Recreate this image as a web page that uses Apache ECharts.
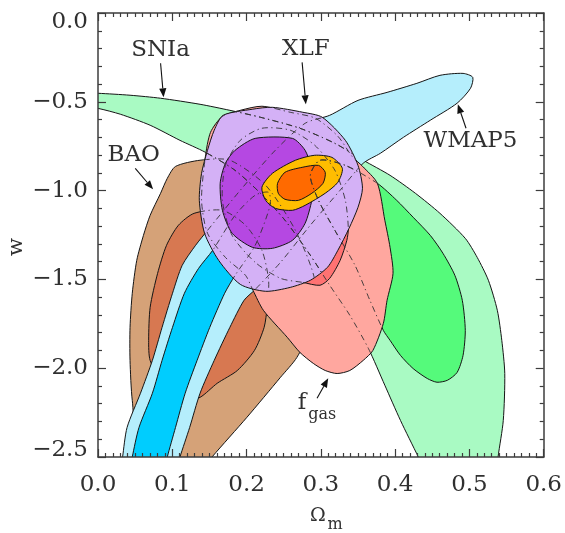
<!DOCTYPE html>
<html><head><meta charset="utf-8">
<script src="https://cdn.jsdelivr.net/npm/echarts@6/dist/echarts.min.js"></script>
<style>html,body{margin:0;padding:0;background:#fff}
#wrap{position:relative;width:565px;height:533px}
#s,#c{position:absolute;left:0;top:0;width:565px;height:533px}</style>
</head><body><div id="wrap"><div id="s"></div><div id="c"></div></div>
<script>
// ---- data (Omega_m, w) ----
var xTicks = [0.0, 0.1, 0.2, 0.3, 0.4, 0.5, 0.6];
var yTicks = [0.0, -0.5, -1.0, -1.5, -2.0, -2.5];

var snIaOuter = [[-0.01,-0.452],[0.0,-0.452],[0.043,-0.463],[0.084,-0.48],[0.137,-0.514],[0.177,-0.548],
 [0.218,-0.587],[0.271,-0.649],[0.318,-0.734],[0.356,-0.829],
 [0.392,-0.914],[0.426,-1.015],[0.459,-1.128],[0.493,-1.269],[0.509,-1.376],[0.524,-1.505],[0.536,-1.674],[0.542,-1.843],[0.546,-2.03],[0.544,-2.294],[0.537,-2.5],[0.536,-2.56],
 [0.437,-2.56],[0.43,-2.5],[0.406,-2.294],[0.385,-2.096],[0.363,-1.889],
 [0.338,-1.702],[0.311,-1.533],[0.285,-1.364],[0.251,-1.167],[0.218,-1.015],[0.184,-0.886],
 [0.144,-0.784],[0.11,-0.717],[0.07,-0.632],[0.03,-0.57],[0.0,-0.537],[-0.01,-0.534]];

var snIaInner = [[0.375,-0.959],[0.401,-1.055],[0.423,-1.15],[0.446,-1.252],[0.463,-1.353],[0.479,-1.477],[0.489,-1.618],[0.493,-1.787],[0.49,-1.928],[0.482,-2.024],[0.469,-2.068],[0.455,-2.079],[0.442,-2.058],[0.423,-2.002],[0.406,-1.928],[0.392,-1.843],[0.383,-1.787],
 [0.365,-1.618],[0.345,-1.421],[0.318,-1.224],[0.296,-1.055],[0.285,-0.914],[0.298,-0.829],[0.332,-0.858]];

var baoOuter = [[0.06,-2.56],[0.046,-2.181],[0.043,-1.956],[0.043,-1.77],[0.046,-1.578],[0.052,-1.393],[0.061,-1.252],[0.07,-1.139],[0.084,-1.015],[0.093,-0.931],[0.104,-0.864],[0.137,-0.829],
 [0.177,-0.829],[0.225,-0.97],[0.265,-1.224],[0.291,-1.505],[0.287,-1.759],[0.267,-1.939],
 [0.245,-2.051],[0.2,-2.276],[0.153,-2.5],[0.142,-2.56]];

var baoInner = [[0.129,-1.128],[0.108,-1.195],[0.092,-1.308],[0.08,-1.466],[0.07,-1.657],[0.068,-1.843],[0.07,-1.956],[0.091,-2.124],[0.117,-2.181],[0.137,-2.164],[0.16,-2.085],[0.187,-2.013],[0.21,-1.9],[0.223,-1.77],[0.227,-1.657],
 [0.229,-1.505],[0.22,-1.336],[0.198,-1.195],[0.167,-1.111]];

var wmapOuter = [[0.031,-2.56],[0.033,-2.5],[0.039,-2.334],[0.057,-2.141],[0.073,-1.956],[0.086,-1.77],[0.1,-1.578],[0.113,-1.421],[0.131,-1.308],[0.147,-1.224],
 [0.191,-0.998],[0.238,-0.773],[0.278,-0.621],
 [0.311,-0.576],[0.349,-0.492],[0.388,-0.447],[0.428,-0.396],[0.459,-0.351],[0.49,-0.34],[0.503,-0.362],[0.5,-0.424],[0.482,-0.508],[0.446,-0.604],[0.41,-0.7],[0.379,-0.79],[0.356,-0.846],
 [0.325,-0.998],[0.285,-1.195],[0.245,-1.404],
 [0.21,-1.561],[0.196,-1.618],[0.177,-1.77],[0.156,-1.956],[0.137,-2.141],[0.123,-2.334],[0.11,-2.5],[0.106,-2.56]];

var wmapInner = [[0.044,-2.56],[0.046,-2.5],[0.055,-2.334],[0.073,-2.141],[0.086,-1.956],[0.1,-1.77],[0.116,-1.578],[0.135,-1.438],
 [0.154,-1.336],[0.184,-1.139],[0.211,-1.026],[0.229,-1.01],[0.231,-1.083],[0.211,-1.308],[0.184,-1.477],
 [0.17,-1.578],[0.15,-1.77],[0.133,-1.956],[0.117,-2.141],[0.104,-2.334],[0.093,-2.5],[0.09,-2.56]];

var fgasOuter = [[0.144,-0.813],[0.151,-0.672],[0.167,-0.582],[0.191,-0.548],[0.22,-0.525],
 [0.258,-0.559],[0.292,-0.593],[0.322,-0.694],[0.341,-0.807],
 [0.355,-0.863],[0.375,-0.959],[0.385,-1.167],[0.392,-1.319],[0.396,-1.466],[0.388,-1.618],[0.383,-1.748],[0.369,-1.9],[0.356,-1.956],[0.338,-2.013],[0.321,-2.03],[0.305,-2.013],[0.289,-1.973],[0.271,-1.911],[0.254,-1.826],[0.222,-1.674],[0.208,-1.561],
 [0.198,-1.477],[0.171,-1.376],[0.147,-1.24],[0.139,-1.055]];

var fgasInner = [[0.275,-1.517],[0.298,-1.533],[0.311,-1.494],[0.325,-1.393],[0.334,-1.28],[0.336,-1.212],
 [0.332,-1.055],[0.318,-0.886],[0.291,-0.745],[0.258,-0.66],[0.22,-0.649],[0.191,-0.717],[0.171,-0.858],[0.167,-1.055],[0.18,-1.252],[0.211,-1.404],[0.245,-1.494]];

var xlfOuter = [[0.168,-0.576],[0.207,-0.542],[0.234,-0.531],[0.275,-0.559],[0.301,-0.587],[0.332,-0.717],[0.349,-0.858],[0.355,-0.987],[0.349,-1.094],[0.337,-1.212],[0.322,-1.336],[0.308,-1.432],[0.285,-1.505],[0.258,-1.545],[0.225,-1.567],[0.191,-1.528],[0.162,-1.393],[0.143,-1.24],[0.136,-1.055],[0.139,-0.903],[0.147,-0.773],[0.156,-0.66]];

var xlfInner = [[0.211,-0.706],[0.261,-0.706],[0.278,-0.773],[0.286,-0.869],[0.289,-0.97],[0.287,-1.055],[0.278,-1.184],[0.261,-1.28],[0.234,-1.325],[0.207,-1.319],[0.18,-1.24],[0.167,-1.111],[0.164,-0.959],[0.171,-0.846],[0.184,-0.773]];

var jointOuter = [[0.22,-0.981],[0.234,-0.903],[0.265,-0.829],[0.291,-0.801],[0.314,-0.813],[0.328,-0.875],[0.322,-0.953],[0.305,-1.015],[0.278,-1.083],[0.261,-1.111],[0.238,-1.1],[0.225,-1.055]];

var jointInner = [[0.241,-0.959],[0.251,-0.897],[0.274,-0.869],[0.296,-0.858],[0.305,-0.897],[0.302,-0.959],[0.287,-1.015],[0.269,-1.055],[0.251,-1.049],[0.242,-1.015]];

// ---- rendering ----
var FONT = 'DejaVu Serif';
var TXT = '#303030';
var AX = '#3c3c3c';
var SM = 0.25;
var GRID = {left: 98, top: 13, width: 447, height: 444, containLabel: false};
var XMIN = xTicks[0], XMAX = xTicks[xTicks.length - 1];
var YMIN = yTicks[yTicks.length - 1], YMAX = yTicks[0];

function fillSeries(name, pts, color) {
  return {
    type: 'custom', name: name, data: pts, clip: true, silent: true,
    encode: {x: 0, y: 1},
    renderItem: function (params, api) {
      if (params.dataIndex !== 0) return null;
      var P = pts.map(function (p) { return api.coord(p); });
      return {type: 'polygon', shape: {points: P, smooth: SM},
        style: {fill: color, stroke: '#151515', lineWidth: 1}};
    }
  };
}
function overlaySeries(clipPts, outlines) {
  return {
    type: 'custom', data: [[0.3, -1.0]], clip: true, silent: true,
    encode: {x: 0, y: 1},
    renderItem: function (params, api) {
      var cp = clipPts.map(function (p) { return api.coord(p); });
      var kids = outlines.map(function (o) {
        return {type: 'polygon', shape: {points: o.map(function (p) { return api.coord(p); }), smooth: SM},
          style: {fill: 'none', stroke: '#333', lineWidth: 0.9, lineDash: [6, 3.5, 1.2, 3.5]}};
      });
      return {type: 'group', children: kids, clipPath: {type: 'polygon', shape: {points: cp, smooth: SM}}};
    }
  };
}
function hiddenAxis(min, max, interval) {
  return {type: 'value', min: min, max: max, interval: interval,
    axisLine: {show: false}, axisTick: {show: false}, axisLabel: {show: false}, splitLine: {show: false}};
}

// layer 1: the contour fills (series) on the library's value axes
var seriesChart = echarts.init(document.getElementById('s'), null, {renderer: 'canvas'});
seriesChart.setOption({
  animation: false,
  backgroundColor: '#ffffff',
  grid: GRID,
  xAxis: hiddenAxis(XMIN, XMAX, 0.1),
  yAxis: hiddenAxis(YMIN, YMAX, 0.5),
  series: [
    fillSeries('SNIa 95%', snIaOuter, '#a9fac3'),
    fillSeries('SNIa 68%', snIaInner, '#55fa7b'),
    fillSeries('BAO 95%', baoOuter, '#d5a278'),
    fillSeries('BAO 68%', baoInner, '#d77851'),
    fillSeries('WMAP5 95%', wmapOuter, '#b5eefc'),
    fillSeries('WMAP5 68%', wmapInner, '#00cdfe'),
    fillSeries('fgas 95%', fgasOuter, '#ffa79f'),
    fillSeries('fgas 68%', fgasInner, '#ff7272'),
    fillSeries('XLF 95%', xlfOuter, '#d4b1f6'),
    fillSeries('XLF 68%', xlfInner, '#b548e2'),
    fillSeries('All 95%', jointOuter, '#ffbd00'),
    fillSeries('All 68%', jointInner, '#ff6a00'),
    overlaySeries(fgasOuter, [snIaOuter, snIaInner]),
    overlaySeries(xlfOuter, [snIaOuter, snIaInner, wmapOuter, wmapInner, fgasOuter, fgasInner, baoOuter, baoInner])
  ]
});

// layer 2: frame, ticks, labels and annotations (same grid, transparent)
function xfmt(v) { return v.toFixed(1); }
function yfmt(v) {
  var s = (v < -1e-9 ? '\u2212' : '') + Math.abs(v).toFixed(1);
  if (Math.abs(v) < 1e-9) return '{t|' + s + '}';
  if (Math.abs(v + 2.5) < 1e-9) return '{b|' + s + '}';
  return s;
}
function makeAxis(min, max, interval, position, split, label) {
  return {
    type: 'value', min: min, max: max, interval: interval, position: position,
    axisLine: {show: true, onZero: false, lineStyle: {color: AX, width: 1.5}},
    axisTick: {show: true, inside: true, length: 8, lineStyle: {color: AX, width: 1.2}},
    minorTick: {show: true, splitNumber: split, length: 4, lineStyle: {color: AX, width: 1.2}},
    splitLine: {show: false}, minorSplitLine: {show: false},
    axisLabel: label
  };
}
var axisChart = echarts.init(document.getElementById('c'), null, {renderer: 'canvas'});
axisChart.setOption({
  animation: false,
  backgroundColor: 'rgba(0,0,0,0)',
  grid: GRID,
  xAxis: [
    makeAxis(XMIN, XMAX, 0.1, 'bottom', 10,
      {show: true, margin: 17, fontFamily: FONT, fontSize: 23, color: TXT, formatter: xfmt, showMinLabel: true, showMaxLabel: true}),
    makeAxis(XMIN, XMAX, 0.1, 'top', 10, {show: false})
  ],
  yAxis: [
    makeAxis(YMIN, YMAX, 0.5, 'left', 5,
      {show: true, margin: 10, fontFamily: FONT, fontSize: 23, color: TXT, formatter: yfmt, showMinLabel: true, showMaxLabel: true,
        rich: {t: {fontFamily: FONT, fontSize: 23, color: TXT, padding: [18, 0, 0, 0]},
               b: {fontFamily: FONT, fontSize: 23, color: TXT, padding: [0, 0, 14, 0]}}}),
    makeAxis(YMIN, YMAX, 0.5, 'right', 5, {show: false})
  ],
  series: []
});

// annotations anchored in data space
var notes = [
  {text: 'SNIa', at: [0.084, -0.21], from: [0.084, -0.283], to: [0.088, -0.475]},
  {text: 'XLF', at: [0.279, -0.205], from: [0.274, -0.278], to: [0.279, -0.514]},
  {text: 'WMAP5', at: [0.5, -0.722], from: [0.494, -0.649], to: [0.483, -0.514]},
  {text: 'BAO', at: [0.048, -0.801], from: [0.05, -0.875], to: [0.074, -0.993]},
  {text: 'f', sub: 'gas', at: [0.274, -2.198], subAt: [0.301, -2.26], from: [0.294, -2.169], to: [0.309, -2.057]}
];
var g = [];
function px(p) { return seriesChart.convertToPixel({gridIndex: 0}, p); }
notes.forEach(function (n) {
  var c = px(n.at);
  g.push({type: 'text', x: c[0], y: c[1], silent: true,
    style: {text: n.text, fontFamily: FONT, fontSize: 23, fill: TXT, align: 'center', verticalAlign: 'middle'}});
  if (n.sub) {
    var s = px(n.subAt);
    g.push({type: 'text', x: s[0], y: s[1], silent: true,
      style: {text: n.sub, fontFamily: FONT, fontSize: 16, fill: TXT, align: 'center', verticalAlign: 'middle'}});
  }
  var a = px(n.from), b = px(n.to);
  var dx = b[0] - a[0], dy = b[1] - a[1], L = Math.sqrt(dx * dx + dy * dy);
  var ux = dx / L, uy = dy / L, hl = 9, hw = 3.6;
  var bx = b[0] - ux * hl, by = b[1] - uy * hl;
  g.push({type: 'line', silent: true, shape: {x1: a[0], y1: a[1], x2: bx, y2: by}, style: {stroke: '#111', lineWidth: 1.1}});
  g.push({type: 'polygon', silent: true, shape: {points: [[b[0], b[1]], [bx - uy * hw, by + ux * hw], [bx + uy * hw, by - ux * hw]]},
    style: {fill: '#111'}});
});
// axis titles
g.push({type: 'text', x: 318, y: 516, silent: true, style: {text: '\u03A9', fontFamily: FONT, fontSize: 19, fill: TXT, align: 'center', verticalAlign: 'middle'}});
g.push({type: 'text', x: 335, y: 525, silent: true, style: {text: 'm', fontFamily: FONT, fontSize: 16, fill: TXT, align: 'center', verticalAlign: 'middle'}});
g.push({type: 'text', x: 17, y: 247, rotation: Math.PI / 2, silent: true, style: {text: 'w', fontFamily: FONT, fontSize: 21, fill: TXT, align: 'center', verticalAlign: 'middle'}});
axisChart.setOption({graphic: g});
</script>
</body></html>
